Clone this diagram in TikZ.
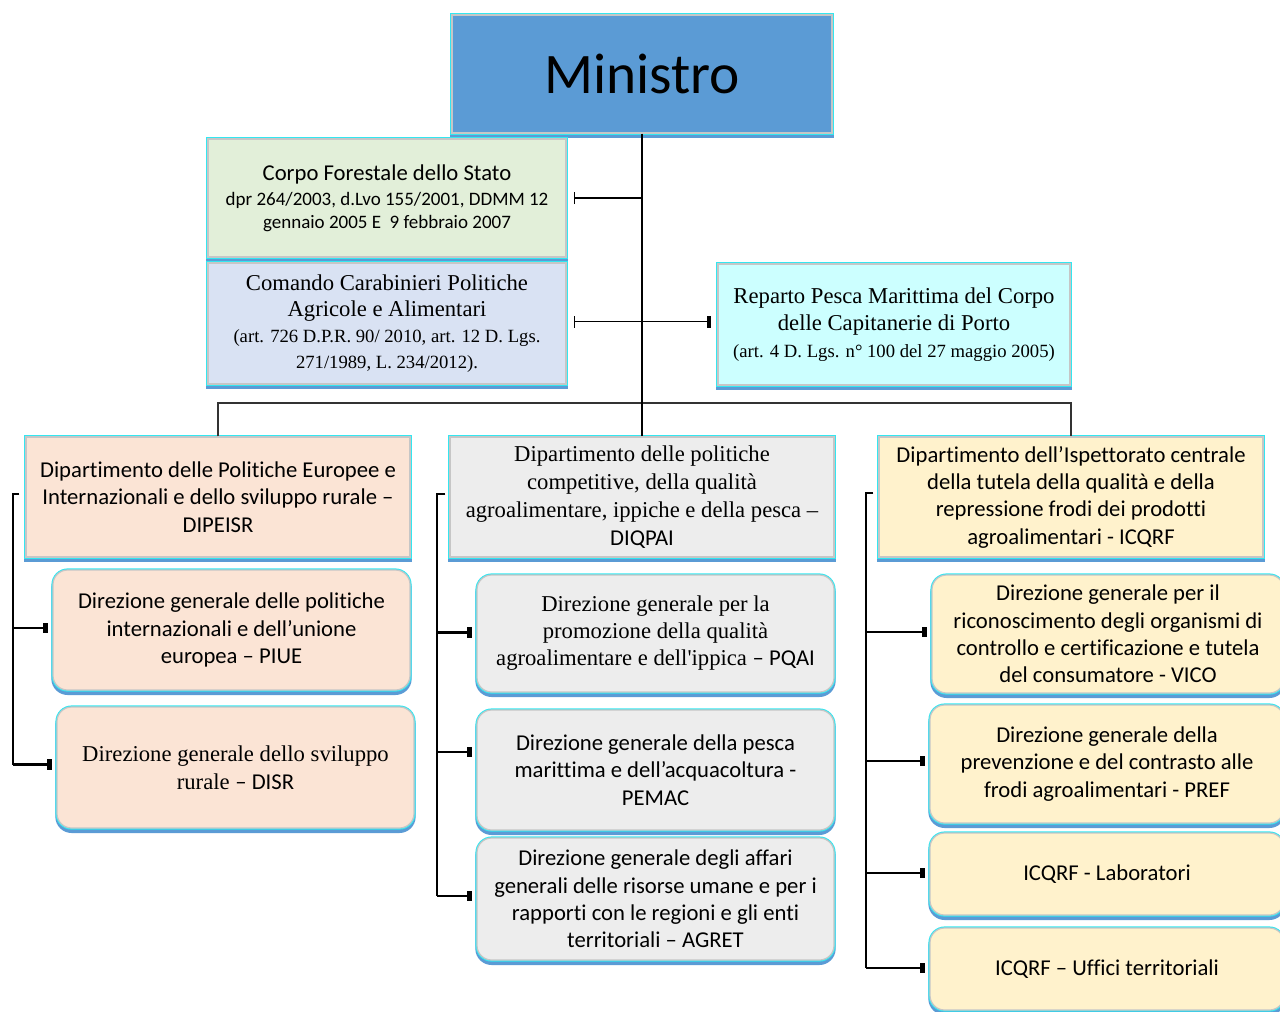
\documentclass[tikz,border=0pt]{standalone}
\usepackage{fontspec}
\setmainfont[Ligatures=TeXOff]{Liberation Serif}
\newfontfamily\calib[Ligatures={TeXOff,CommonOff}]{Carlito}
\usetikzlibrary{arrows.meta,shadows,calc}
\definecolor{sblue}{HTML}{5B9BD5}
\definecolor{minfill}{HTML}{5B9BD5}
\definecolor{greenf}{HTML}{E2EFD9}
\definecolor{lavf}{HTML}{D9E2F3}
\definecolor{cyanf}{HTML}{CCFFFF}
\definecolor{peachf}{HTML}{FBE4D5}
\definecolor{grayf}{HTML}{EDEDED}
\definecolor{yelf}{HTML}{FFF2CC}
\definecolor{glow}{HTML}{33E6F0}
\newcommand\cb{\calib\fontsize{17}{20.5}\selectfont}
\newcommand\tb{\rmfamily\fontsize{17}{21}\selectfont}
\newcommand\ts{\rmfamily\fontsize{14}{19.5}\selectfont}
\newcommand\cs{\calib\fontsize{14.25}{17.25}\selectfont}
\newcommand\obox[7]{%
  \pgfmathsetmacro\bw{(#4-#2)*0.75}%
  \pgfmathsetmacro\bh{(#5-#3)*0.75}%
  \node[#6, minimum width=\bw pt, minimum height=\bh pt] (#1) at ({(#2+#4)/2},{(#3+#5)/2}) {#7};}
\tikzset{
  base/.style={draw=gray!45, line width=0.9pt, align=center, inner sep=0pt, font=\cb,
    general shadow={fill=sblue, draw=sblue, line width=2.5pt, shadow yshift=-2.5pt},
    preaction={draw=glow, line width=2.4pt}},
  rbox/.style={base, rounded corners=11pt},
  con/.style={line width=1.4pt, draw=black},
  bus/.style={line width=1.1pt, draw=black!80},
  brk/.style={line width=1.6pt, draw=black},
  arr/.style={brk, -{Rectangle[length=3.2pt,width=8pt]}, shorten >=3.5pt},
}
\begin{document}
\begin{tikzpicture}[x=0.75pt,y=-0.75pt]
\useasboundingbox (0,0) rectangle (1280,1011);
% boxes
\obox{min}{452}{15}{832}{133}{base, fill=minfill, font={\calib\fontsize{43}{50}\selectfont}}{Ministro}
\obox{corpo}{208}{139}{566}{257}{base, fill=greenf, font=\cs}{\cb Corpo Forestale dello Stato\\[1.5pt]dpr 264/2003, d.Lvo 155/2001, DDMM 12\\gennaio 2005 E\ \ 9 febbraio 2007}
\obox{com}{208}{263}{566}{384}{base, fill=lavf, font={\rmfamily\fontsize{17}{19.5}\selectfont}}{Comando Carabinieri Politiche\\Agricole e Alimentari\\ \ts (art. 726 D.P.R. 90/ 2010, art. 12 D. Lgs.\\ \ts 271/1989, L. 234/2012).}
\obox{rep}{718}{264}{1070}{385}{base, fill=cyanf, font={\rmfamily\fontsize{17}{20.5}\selectfont}}{Reparto Pesca Marittima del Corpo\\delle Capitanerie di Porto\\ \ts (art. 4 D. Lgs. n° 100 del 27 maggio 2005)}
\obox{dip}{26}{437}{410}{557}{base, fill=peachf}{Dipartimento delle Politiche Europee e\\Internazionali e dello sviluppo rurale –\\DIPEISR}
\obox{piue}{53}{570}{410}{690}{rbox, fill=peachf}{Direzione generale delle politiche\\internazionali e dell’unione\\europea – PIUE}
\obox{disr}{57}{707}{414}{828}{rbox, fill=peachf, font=\tb}{Direzione generale dello sviluppo\\rurale {\cb – DISR}}
\obox{diq}{450}{437}{834}{557}{base, fill=grayf, font=\tb}{Dipartimento delle politiche\\competitive, della qualità\\agroalimentare, ippiche e della pesca –\\ \cb DIQPAI}
\obox{pqai}{477}{575}{834}{692}{rbox, fill=grayf, font={\rmfamily\fontsize{17}{20.25}\selectfont}}{Direzione generale per la\\promozione della qualità\\agroalimentare e dell'ippica {\cb – PQAI}}
\obox{pemac}{477}{710}{834}{830}{rbox, fill=grayf}{Direzione generale della pesca\\marittima e dell’acquacoltura -\\PEMAC}
\obox{agret}{477}{838}{834}{960}{rbox, fill=grayf}{Direzione generale degli affari\\generali delle risorse umane e per i\\rapporti con le regioni e gli enti\\territoriali – AGRET}
\obox{icq}{879}{437}{1263}{557}{base, fill=yelf}{Dipartimento dell’Ispettorato centrale\\della tutela della qualità e della\\repressione frodi dei prodotti\\agroalimentari - ICQRF}
\obox{vico}{932}{575}{1284}{693}{rbox, fill=yelf}{Direzione generale per il\\riconoscimento degli organismi di\\controllo e certificazione e tutela\\del consumatore - VICO}
\obox{pref}{930}{705}{1284}{823}{rbox, fill=yelf}{Direzione generale della\\prevenzione e del contrasto alle\\frodi agroalimentari - PREF}
\obox{lab}{930}{833}{1284}{915}{rbox, fill=yelf}{ICQRF - Laboratori}
\obox{uff}{930}{928}{1284}{1010}{rbox, fill=yelf}{ICQRF – Uffici territoriali}
% connectors
\coordinate (bus) at (642,403);
\draw[bus] (dip.north) |- (bus) -| (icq.north);
\draw[con] (min.south) -- (diq.north);
\coordinate (jc) at (min.south |- corpo.east);
\draw[con, -{Bar[width=9pt]}, shorten >=5.25pt] (jc) -- (corpo.east);
\coordinate (jr) at ($(com.east)+(0,-2)$);
\draw[con, {Bar[width=9pt]}-{Rectangle[length=3.4pt,width=9pt]}, shorten <=5.25pt, shorten >=4.5pt] (jr) -- (jr -| rep.west);
% left bracket
\coordinate (l0) at ($(dip.west)+(-12,-3)$);
\draw[brk] ($(l0)+(6,0)$) -- (l0) -- ($(l0 |- disr.west)+(0,-3)$);
\draw[arr] ($(l0 |- piue.west)+(0,-2)$) -- ($(piue.west)+(0,-2)$);
\draw[arr] ($(l0 |- disr.west)+(0,-3)$) -- ($(disr.west)+(0,-3)$);
% middle bracket
\coordinate (m0) at ($(diq.west)+(-12,-3)$);
\draw[brk] ($(m0)+(8,0)$) -- (m0) -- ($(m0 |- agret.west)+(0,-3)$);
\draw[arr] ($(m0 |- pqai.west)+(0,-1)$) -- ($(pqai.west)+(0,-1)$);
\draw[arr] ($(m0 |- pemac.west)+(0,-18)$) -- ($(pemac.west)+(0,-18)$);
\draw[arr] ($(m0 |- agret.west)+(0,-3)$) -- ($(agret.west)+(0,-3)$);
% right bracket
\coordinate (r0) at ($(icq.west)+(-12,-4)$);
\draw[brk] ($(r0)+(7,0)$) -- (r0) -- ($(r0 |- uff.west)+(0,-1)$);
\draw[arr] ($(r0 |- vico.west)+(0,-2)$) -- ($(vico.west)+(0,-2)$);
\draw[arr] ($(r0 |- pref.west)+(0,-3)$) -- ($(pref.west)+(0,-3)$);
\draw[arr] ($(r0 |- lab.west)+(0,-1)$) -- ($(lab.west)+(0,-1)$);
\draw[arr] ($(r0 |- uff.west)+(0,-1)$) -- ($(uff.west)+(0,-1)$);
\end{tikzpicture}
\end{document}
